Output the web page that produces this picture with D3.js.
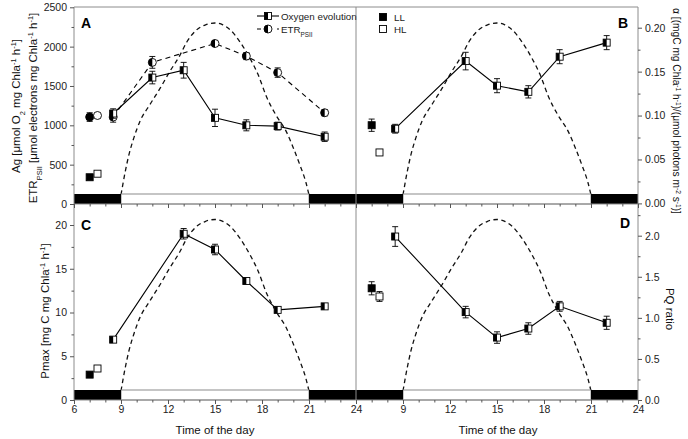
<!DOCTYPE html>
<html><head><meta charset="utf-8">
<script src="https://cdn.jsdelivr.net/npm/d3@7"></script>
<style>body{margin:0;background:#fff}svg{display:block;font-family:"Liberation Sans",Arial,sans-serif}</style>
</head><body>
<script>
// ---------- DATA ----------
const xTickLabelsLeft = [6, 9, 12, 15, 18, 21, 24];
const xTickLabelsRight = [9, 12, 15, 18, 21, 24];
const darkPeriods = [[6, 9], [21, 24]];
const lightPeriod = [9, 21];

// relative irradiance (% of maximum)
const lightT = [9.0, 9.25, 9.5, 9.8, 10.2, 10.85, 11.5, 12.1, 12.75, 13.2, 13.8, 14.4, 15, 15.5, 16, 16.6, 17.2, 17.75, 18.3, 18.9, 19.55, 20.0, 20.4, 20.8, 21.0];
const lightV = [5, 17, 27, 36, 45.5, 55, 64, 73, 82, 89.5, 96, 99, 100, 99, 96, 89.5, 81, 71.5, 59, 49, 40, 31, 22, 12, 5];

// Panel A: oxygen evolution (Ag) and ETR
const o2T = [8.5, 11, 13, 15, 17, 19, 22];
const o2V = [1150, 1607, 1700, 1095, 1000, 990, 855];
const o2E = [60, 80, 100, 110, 70, 50, 60];
const o2LL = [7, 340, 20];
const o2HL = [7.5, 385, 25];
const etrT = [8.5, 11, 15, 17, 19, 22];
const etrV = [1105, 1800, 2040, 1880, 1670, 1160];
const etrE = [65, 75, 15, 45, 60, 40];
const etrLL = [7, 1105, 55];
const etrHL = [7.5, 1125, 0];

// Panel B: alpha
const alphaT = [8.5, 13, 15, 17, 19, 22];
const alphaV = [0.085, 0.162, 0.134, 0.127, 0.167, 0.183];
const alphaE = [0.005, 0.01, 0.008, 0.007, 0.008, 0.008];
const alphaLL = [7, 0.089, 0.007];
const alphaHL = [7.5, 0.058, 0];

// Panel C: Pmax
const pmaxT = [8.5, 13, 15, 17, 19, 22];
const pmaxV = [6.9, 19.0, 17.2, 13.6, 10.3, 10.7];
const pmaxE = [0.2, 0.6, 0.6, 0.3, 0.2, 0.15];
const pmaxLL = [7, 2.9, 0.15];
const pmaxHL = [7.5, 3.6, 0.3];

// Panel D: PQ ratio
const pqT = [8.5, 13, 15, 17, 19, 22];
const pqV = [1.99, 1.07, 0.76, 0.87, 1.14, 0.94];
const pqE = [0.12, 0.07, 0.07, 0.07, 0.06, 0.08];
const pqLL = [7, 1.36, 0.08];
const pqHL = [7.5, 1.26, 0.06];

const yTicksA = [0, 500, 1000, 1500, 2000, 2500];
const yTicksB = [0, 0.05, 0.10, 0.15, 0.20];
const yTicksC = [0, 5, 10, 15, 20];
const yTicksD = [0, 0.5, 1.0, 1.5, 2.0];

// ---------- LAYOUT ----------
const W = 688, H = 439;
const L = 74, M = 356, R = 638, TOP = 7, MID = 204, BOT = 400;
const GRAY = '#8c8c8c', TXT = '#222';
const svg = d3.select('body').append('svg').attr('width', W).attr('height', H);

const xL = d3.scaleLinear([6, 24], [L, M]);
const xR = d3.scaleLinear([6, 24], [M, R]);
const yA = d3.scaleLinear([0, 2500], [MID, 7.3]);
const yB = d3.scaleLinear([0, 0.2], [203.4, 27.7]);
const yC = d3.scaleLinear([0, 20], [BOT, 225]);
const yD = d3.scaleLinear([0, 2], [BOT, 235.7]);
const yLightTop = d3.scaleLinear([0, 100], [MID, 23]);
const yLightBot = d3.scaleLinear([0, 100], [BOT, 219.5]);

function richText(sel, parts, fs) {
  parts.forEach(p => {
    const ts = sel.append('tspan').text(p[0]);
    if (p[1] === 'sup') ts.attr('baseline-shift', 'super').attr('font-size', fs * 0.65);
    if (p[1] === 'sub') ts.attr('baseline-shift', 'sub').attr('font-size', fs * 0.65);
  });
}

// light curve + day/night bar
function lightAndBar(x, yL, base) {
  const line = d3.line().x((d, i) => x(lightT[i])).y(d => yL(d)).curve(d3.curveMonotoneX);
  svg.append('path').attr('d', line(lightV)).attr('fill', 'none')
    .attr('stroke', '#111').attr('stroke-width', 1.3).attr('stroke-dasharray', '4.5,3.5');
  const bh = 10;
  svg.append('rect').attr('x', x(lightPeriod[0])).attr('y', base - bh)
    .attr('width', x(lightPeriod[1]) - x(lightPeriod[0])).attr('height', bh)
    .attr('fill', '#fff').attr('stroke', GRAY).attr('stroke-width', 1);
  darkPeriods.forEach(p => {
    svg.append('rect').attr('x', x(p[0])).attr('y', base - bh)
      .attr('width', x(p[1]) - x(p[0])).attr('height', bh).attr('fill', '#000');
  });
}
lightAndBar(xL, yLightTop, MID);
lightAndBar(xR, yLightTop, MID);
lightAndBar(xL, yLightBot, BOT);
lightAndBar(xR, yLightBot, BOT);

// frame
const frame = svg.append('g').attr('stroke', GRAY).attr('stroke-width', 1).attr('fill', 'none');
[[L, TOP, R, TOP], [L, MID, R, MID], [L, BOT, R, BOT], [L, TOP, L, BOT], [M, TOP, M, BOT], [R, TOP, R, BOT]]
  .forEach(s => frame.append('line').attr('x1', s[0]).attr('y1', s[1]).attr('x2', s[2]).attr('y2', s[3]));

// axes helpers
function styleAxis(g) {
  g.select('.domain').remove();
  g.selectAll('line').attr('stroke', '#555');
  g.selectAll('text').attr('fill', TXT).attr('font-size', 10.5).attr('font-family', '"Liberation Sans",Arial,sans-serif');
}
function yAxis(scale, ticks, minorStep, side, xPos, fmt) {
  const top = scale.invert(scale === yA || scale === yB ? TOP : MID);
  const minor = d3.range(0, top + 1e-9, minorStep).filter(v => !ticks.some(t => Math.abs(t - v) < 1e-9));
  const mk = side === 'left' ? d3.axisLeft : d3.axisRight;
  svg.append('g').attr('transform', `translate(${xPos},0)`)
    .call(mk(scale).tickValues(minor).tickSize(2.5).tickFormat('')).call(styleAxis);
  svg.append('g').attr('transform', `translate(${xPos},0)`)
    .call(mk(scale).tickValues(ticks).tickSize(4).tickPadding(3).tickFormat(fmt)).call(styleAxis);
}
yAxis(yA, yTicksA, 250, 'left', L, d3.format('d'));
yAxis(yC, yTicksC, 2.5, 'left', L, d3.format('d'));
yAxis(yB, yTicksB, 0.025, 'right', R, d3.format('.2f'));
yAxis(yD, yTicksD, 0.25, 'right', R, d3.format('.1f'));

function xAxis(scale, yPos, labels) {
  const hours = d3.range(6, 25, 1);
  svg.append('g').attr('transform', `translate(0,${yPos})`)
    .call(d3.axisBottom(scale).tickValues(hours.filter(h => h % 3 !== 0)).tickSize(2.5).tickFormat('')).call(styleAxis);
  svg.append('g').attr('transform', `translate(0,${yPos})`)
    .call(d3.axisBottom(scale).tickValues(hours.filter(h => h % 3 === 0)).tickSize(4).tickPadding(2)
      .tickFormat(d => labels && labels.includes(d) ? d : '')).call(styleAxis);
}
xAxis(xL, MID, null);
xAxis(xR, MID, null);
xAxis(xL, BOT, xTickLabelsLeft);
xAxis(xR, BOT, xTickLabelsRight);

// markers
function square(x, y, kind) {
  const s = 7;
  const g = svg.append('g');
  g.append('rect').attr('x', x - s / 2).attr('y', y - s / 2).attr('width', s).attr('height', s)
    .attr('fill', kind === 'full' ? '#000' : '#fff').attr('stroke', '#000').attr('stroke-width', 0.9);
  if (kind === 'half') g.append('rect').attr('x', x - s / 2).attr('y', y - s / 2).attr('width', s / 2).attr('height', s).attr('fill', '#000');
}
function circle(x, y, kind) {
  const r = 4;
  const g = svg.append('g');
  g.append('circle').attr('cx', x).attr('cy', y).attr('r', r)
    .attr('fill', kind === 'full' ? '#000' : '#fff').attr('stroke', '#000').attr('stroke-width', 0.9);
  if (kind === 'half') g.append('path')
    .attr('d', `M${x},${y - r} A${r},${r} 0 0 0 ${x},${y + r} Z`).attr('fill', '#000');
}
function errBar(x, y, e) {
  if (!e) return;
  const g = svg.append('g').attr('stroke', '#000').attr('stroke-width', 0.9);
  g.append('line').attr('x1', x).attr('x2', x).attr('y1', y(e[0])).attr('y2', y(e[1]));
  [e[0], e[1]].forEach(v => g.append('line').attr('x1', x - 3).attr('x2', x + 3).attr('y1', y(v)).attr('y2', y(v)));
}
function series(x, y, T, V, E, marker, dashed, LL, HL) {
  const line = d3.line().x((d, i) => x(T[i])).y(d => y(d));
  svg.append('path').attr('d', line(V)).attr('fill', 'none').attr('stroke', '#000')
    .attr('stroke-width', 1.1).attr('stroke-dasharray', dashed ? '5,4' : null);
  const pts = T.map((t, i) => [t, V[i], E[i], 'half']);
  if (LL) pts.push([LL[0], LL[1], LL[2], 'full']);
  if (HL) pts.push([HL[0], HL[1], HL[2], 'open']);
  pts.forEach(p => errBar(x(p[0]), y, p[2] ? [p[1] - p[2], p[1] + p[2]] : null));
  pts.forEach(p => marker(x(p[0]), y(p[1]), p[3]));
}
series(xL, yA, etrT, etrV, etrE, circle, true, etrLL, etrHL);
series(xL, yA, o2T, o2V, o2E, square, false, o2LL, o2HL);
series(xR, yB, alphaT, alphaV, alphaE, square, false, alphaLL, alphaHL);
series(xL, yC, pmaxT, pmaxV, pmaxE, square, false, pmaxLL, pmaxHL);
series(xR, yD, pqT, pqV, pqE, square, false, pqLL, pqHL);

// panel letters
[['A', 86, 28], ['B', 623, 28], ['C', 86, 230], ['D', 625, 228]].forEach(l =>
  svg.append('text').attr('x', l[1]).attr('y', l[2]).attr('text-anchor', 'middle')
    .attr('font-weight', 'bold').attr('font-size', 14).attr('fill', '#000').text(l[0]));

// legend A
const lg = svg.append('g');
lg.append('line').attr('x1', 257).attr('x2', 279).attr('y1', 16).attr('y2', 16).attr('stroke', '#000').attr('stroke-width', 1.1);
square(268, 16, 'half');
lg.append('line').attr('x1', 257).attr('x2', 279).attr('y1', 29).attr('y2', 29).attr('stroke', '#000').attr('stroke-width', 1.1).attr('stroke-dasharray', '4,6');
circle(268, 29, 'half');
svg.append('text').attr('x', 281).attr('y', 19.5).attr('font-size', 9.8).attr('fill', TXT).text('Oxygen evolution');
const etrLbl = svg.append('text').attr('x', 281).attr('y', 32.5).attr('font-size', 9.8).attr('fill', TXT);
richText(etrLbl, [['ETR'], ['PSII', 'sub']], 9.8);

// legend B
square(383, 17, 'full');
square(383, 29, 'open');
svg.append('text').attr('x', 394).attr('y', 20.5).attr('font-size', 9.8).attr('fill', TXT).text('LL');
svg.append('text').attr('x', 394).attr('y', 32.5).attr('font-size', 9.8).attr('fill', TXT).text('HL');

// axis titles
function vTitle(x, y, rot, parts, fs) {
  const t = svg.append('text').attr('transform', `translate(${x},${y}) rotate(${rot})`)
    .attr('text-anchor', 'middle').attr('font-size', fs).attr('fill', '#111');
  richText(t, parts, fs);
}
vTitle(20, 106, -90, [['Ag [\u03bcmol O'], ['2', 'sub'], [' mg Chla'], ['-1', 'sup'], [' h'], ['-1', 'sup'], [']']], 11.5);
vTitle(37, 108, -90, [['ETR'], ['PSII', 'sub'], [' [\u03bcmol electrons mg Chla'], ['-1', 'sup'], [' h'], ['-1', 'sup'], [']']], 11.5);
vTitle(49, 311, -90, [['Pmax [mg C mg Chla'], ['-1', 'sup'], [' h'], ['-1', 'sup'], [']']], 11.5);
vTitle(673, 111, 90, [['\u03b1 [(mgC mg Chla'], ['-1', 'sup'], [' h'], ['-1', 'sup'], [')/(\u03bcmol photons m'], ['-2', 'sup'], [' s'], ['-1', 'sup'], [')]']], 10.2);
vTitle(666, 309, 90, [['PQ ratio']], 11.5);
svg.append('text').attr('x', 215).attr('y', 434).attr('text-anchor', 'middle').attr('font-size', 11.5).attr('fill', '#111').text('Time of the day');
svg.append('text').attr('x', 498).attr('y', 434).attr('text-anchor', 'middle').attr('font-size', 11.5).attr('fill', '#111').text('Time of the day');
</script>
</body></html>
